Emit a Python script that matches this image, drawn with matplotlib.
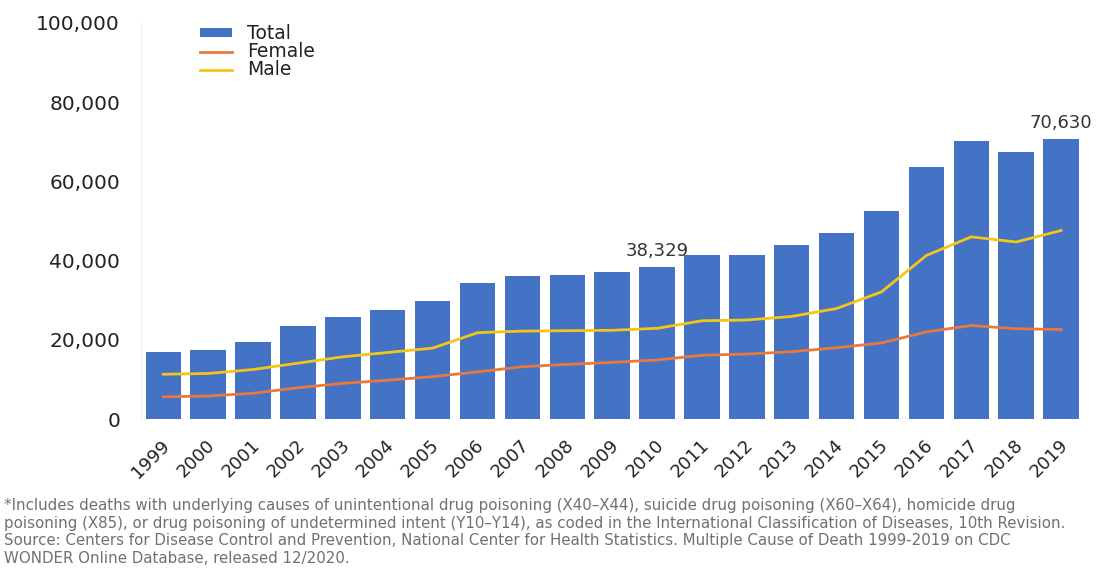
import matplotlib
matplotlib.use("Agg")
import matplotlib.pyplot as plt
from matplotlib.ticker import FuncFormatter
from matplotlib.transforms import ScaledTranslation
import numpy as np

years = [str(y) for y in range(1999, 2020)]
total = [16849, 17415, 19394, 23518, 25785, 27424, 29813, 34425, 36010, 36450, 37004,
         38329, 41340, 41502, 43982, 47055, 52404, 63632, 70237, 67367, 70630]
male = [11300, 11500, 12500, 14100, 15700, 16800, 17900, 21800, 22200, 22300, 22400,
        22900, 24800, 25000, 25900, 27900, 32100, 41300, 46000, 44700, 47600]
female = [5600, 5800, 6500, 7900, 9000, 9800, 10700, 11900, 13200, 13800, 14300,
          14900, 16100, 16400, 17000, 18000, 19200, 22000, 23600, 22800, 22600]
annotated = {"2010": "38,329", "2019": "70,630"}
yticks = [0, 20000, 40000, 60000, 80000, 100000]
footnote = ("*Includes deaths with underlying causes of unintentional drug poisoning (X40\u2013X44), suicide drug poisoning (X60\u2013X64), homicide drug\n"
            "poisoning (X85), or drug poisoning of undetermined intent (Y10\u2013Y14), as coded in the International Classification of Diseases, 10th Revision.\n"
            "Source: Centers for Disease Control and Prevention, National Center for Health Statistics. Multiple Cause of Death 1999-2019 on CDC\n"
            "WONDER Online Database, released 12/2020.")

fig = plt.figure(figsize=(11.09, 5.69), dpi=100)
ax = fig.add_axes([0.127, 0.2636, 0.85, 0.696])

x = np.arange(len(years))
h_total = ax.bar(x, total, width=0.79, color="#4472C4", label="Total", zorder=2)
h_fem, = ax.plot(x, female, color="#E8793A", lw=2, label="Female", zorder=3)
h_male, = ax.plot(x, male, color="#F5C518", lw=2, label="Male", zorder=3)

for i, y in enumerate(years):
    if y in annotated:
        ax.text(i, total[i] + 1800, annotated[y], ha="center", va="bottom",
                fontsize=13, color="#333333")

ax.set_xlim(-0.5, len(years) - 0.5)
ax.set_ylim(0, 100000)
ax.set_yticks(yticks)
ax.yaxis.set_major_formatter(FuncFormatter(lambda v, p: f"{int(v):,}"))
ax.set_xticks(x)
ax.set_xticklabels(years, rotation=45, ha="right", va="center", rotation_mode="anchor")
ax.tick_params(axis="both", length=0, colors="#222222")
ax.tick_params(axis="y", pad=15, labelsize=14.5)
ax.tick_params(axis="x", pad=17, labelsize=13)
for lbl in ax.get_xticklabels():
    lbl.set_transform(lbl.get_transform() + ScaledTranslation(0.04, 0, fig.dpi_scale_trans))
for s in ["top", "right", "bottom"]:
    ax.spines[s].set_visible(False)
ax.spines["left"].set_color("#f0f0f0")

leg = ax.legend([h_total, h_fem, h_male], ["Total", "Female", "Male"],
                loc="upper left", bbox_to_anchor=(0.045, 1.04), frameon=False,
                fontsize=13.5, handlelength=1.7, handleheight=0.35, labelspacing=-0.05,
                handletextpad=0.8)
for t in leg.get_texts():
    t.set_color("#222222")

fig.text(0.004, 0.124, footnote, ha="left", va="top", fontsize=10.8,
         color="#707070", linespacing=1.2)

fig.savefig("out.png", dpi=100)
